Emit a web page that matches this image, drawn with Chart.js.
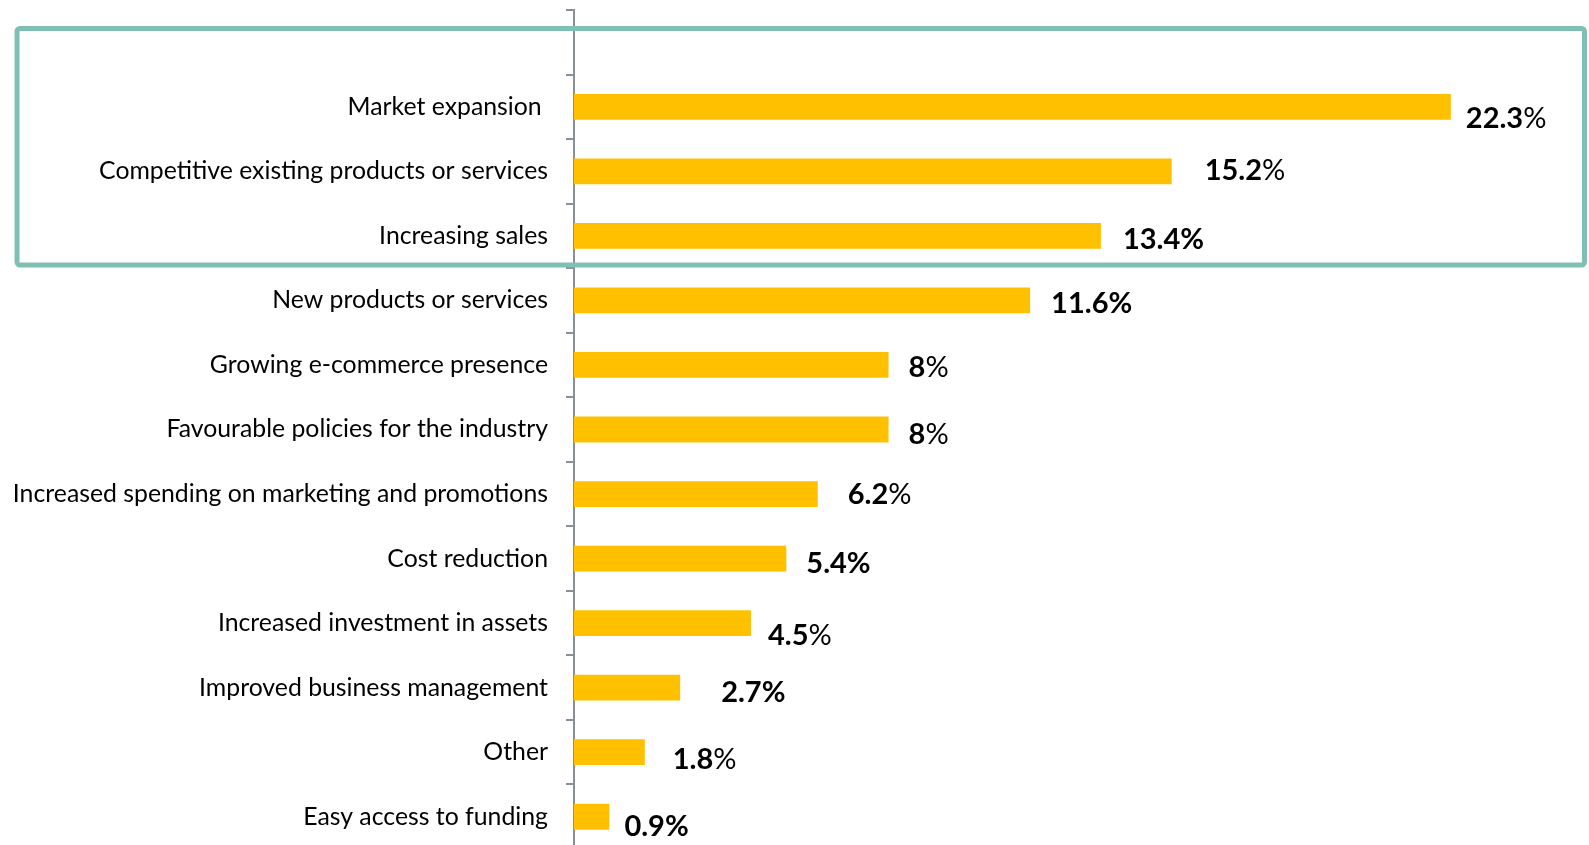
<!DOCTYPE html>
<html>
<head>
<meta charset="utf-8">
<script src="https://cdn.jsdelivr.net/npm/chart.js@4.4.1/dist/chart.umd.min.js"></script>
<style>
  html, body { margin: 0; padding: 0; background: #ffffff; overflow: hidden; }
  #wrap { position: relative; width: 1589px; height: 849px; }
</style>
</head>
<body>
<div id="wrap"><canvas id="c"></canvas></div>
<script>
// ---- data ----
const categories = [
  "",
  "Market expansion ",
  "Competitive existing products or services",
  "Increasing sales",
  "New products or services",
  "Growing e-commerce presence",
  "Favourable policies for the industry",
  "Increased spending on marketing and promotions",
  "Cost reduction",
  "Increased investment in assets",
  "Improved business management",
  "Other",
  "Easy access to funding"
];
const shares = [null, 22.3, 15.2, 13.4, 11.6, 8, 8, 6.2, 5.4, 4.5, 2.7, 1.8, 0.9];
// whether the % sign in each value label is bold (as in the original)
const boldPercent = [false, false, false, true, true, false, false, false, true, false, true, false, true];

// ---- style ----
const BAR = '#FFC000';
const AXIS = '#8a9095';
const BOX = '#7fbfb4';
const labelNudge = [ // [dx from bar end, dy from bar centre]
  [0,0],[15,12],[33,-1],[22,4],[21,3],[20,3],[20,5],[30,1],[20,5],[17,13],[41,5],[28,7],[15,10]
];

const valueLabels = {
  id: 'valueLabels',
  afterDatasetsDraw(chart) {
    const ctx = chart.ctx;
    const meta = chart.getDatasetMeta(0);
    ctx.save();
    ctx.textBaseline = 'middle';
    ctx.textAlign = 'left';
    ctx.fillStyle = '#000';
    meta.data.forEach((bar, i) => {
      const v = shares[i];
      if (v === null || v === undefined) return;
      const n = labelNudge[i] || [20, 0];
      let x = bar.x + n[0];
      const y = bar.y + n[1];
      const num = String(v);
      ctx.font = 'bold 29px Lato';
      ctx.fillText(num, x, y);
      x += ctx.measureText(num).width;
      ctx.font = (boldPercent[i] ? 'bold ' : '') + '29px Lato';
      ctx.fillText('%', x, y);
    });
    ctx.restore();
  }
};

const highlightBox = {
  id: 'highlightBox',
  afterDraw(chart) {
    const ctx = chart.ctx;
    ctx.save();
    ctx.strokeStyle = BOX;
    ctx.lineWidth = 5;
    ctx.lineJoin = 'round';
    ctx.beginPath();
    ctx.roundRect(17, 28.5, 1584.5 - 17, 265 - 28.5, 3);
    ctx.stroke();
    ctx.restore();
  }
};

new Chart(document.getElementById('c'), {
  type: 'bar',
  data: {
    labels: categories,
    datasets: [{
      data: shares,
      backgroundColor: BAR,
      borderWidth: 0,
      barPercentage: 0.4,
      categoryPercentage: 1.0
    }]
  },
  plugins: [valueLabels, highlightBox],
  options: {
    indexAxis: 'y',
    responsive: true,
    maintainAspectRatio: false,
    animation: false,
    layout: { padding: { left: 0, top: 10, right: 32, bottom: 0 } },
    plugins: { legend: { display: false }, tooltip: { enabled: false } },
    scales: {
      x: {
        display: false,
        min: 0,
        max: 25
      },
      y: {
        afterFit(scale) {
          scale.width = 574;
          scale.paddingTop = 0;
          scale.paddingBottom = 0;
        },
        grid: {
          display: true,
          drawOnChartArea: false,
          drawTicks: true,
          tickLength: 8,
          color: AXIS,
          lineWidth: 2,
          offset: true
        },
        border: { display: true, color: AXIS, width: 2 },
        ticks: {
          color: '#000',
          padding: 18,
          font: { family: 'Lato', size: 24.8 },
          autoSkip: false
        }
      }
    }
  }
});
</script>
</body>
</html>
